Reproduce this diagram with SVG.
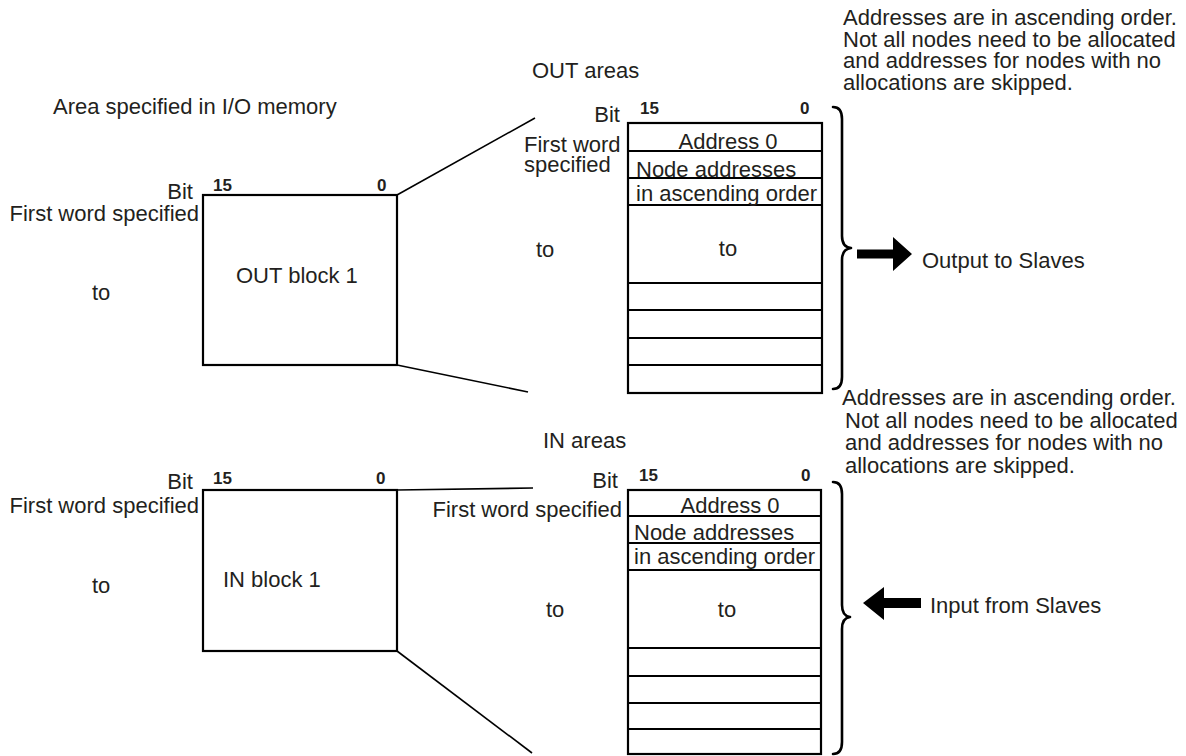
<svg xmlns="http://www.w3.org/2000/svg" width="1186" height="756" viewBox="0 0 1186 756">
<style>
text{font-family:"Liberation Sans",Arial,sans-serif;font-size:22px;fill:#231f20}
.num{font-size:17px;font-weight:bold}
.e{text-anchor:end}
.m{text-anchor:middle}
.box{fill:none;stroke:#000;stroke-width:2.2}
.row{stroke:#000;stroke-width:2}
.con{stroke:#000;stroke-width:1.6;fill:none}
.brace{fill:none;stroke:#000;stroke-width:2.6;stroke-linecap:round;stroke-linejoin:round}
</style>
<rect width="1186" height="756" fill="#fff"/>

<text x="53" y="114">Area specified in I/O memory</text>
<text x="532" y="78">OUT areas</text>
<text x="543" y="448">IN areas</text>

<g id="note-out">
<text x="843" y="25">Addresses are in ascending order.</text>
<text x="843" y="47">Not all nodes need to be allocated</text>
<text x="843" y="68">and addresses for nodes with no</text>
<text x="843" y="90">allocations are skipped.</text>
</g>
<g id="note-in">
<text x="842" y="405">Addresses are in ascending order.</text>
<text x="845" y="428">Not all nodes need to be allocated</text>
<text x="845" y="450">and addresses for nodes with no</text>
<text x="845" y="473">allocations are skipped.</text>
</g>

<g id="out-block">
<rect class="box" x="203" y="195" width="194" height="170"/>
<text class="e" x="193" y="199">Bit</text>
<text class="num" x="213" y="191">15</text>
<text class="num" x="377" y="191">0</text>
<text class="e" x="199" y="221">First word specified</text>
<text x="92" y="300">to</text>
<text x="236" y="283">OUT block 1</text>
</g>

<g id="in-block">
<rect class="box" x="203" y="490" width="194" height="161"/>
<text class="e" x="193" y="489">Bit</text>
<text class="num" x="213" y="484">15</text>
<text class="num" x="376" y="484">0</text>
<text class="e" x="199" y="513">First word specified</text>
<text x="92" y="593">to</text>
<text x="223" y="587">IN block 1</text>
</g>

<g id="out-areas">
<rect class="box" x="628" y="123" width="194" height="270"/>
<line class="row" x1="628" y1="151" x2="822" y2="151"/>
<line class="row" x1="628" y1="178" x2="822" y2="178"/>
<line class="row" x1="628" y1="205" x2="822" y2="205"/>
<line class="row" x1="628" y1="283" x2="822" y2="283"/>
<line class="row" x1="628" y1="310" x2="822" y2="310"/>
<line class="row" x1="628" y1="338" x2="822" y2="338"/>
<line class="row" x1="628" y1="365" x2="822" y2="365"/>
<text class="e" x="620" y="122">Bit</text>
<text class="num" x="640" y="114">15</text>
<text class="num" x="800" y="114">0</text>
<text x="524" y="152">First word</text>
<text x="524" y="172">specified</text>
<text x="536" y="257">to</text>
<text class="m" x="728" y="149">Address 0</text>
<text x="636" y="177">Node addresses</text>
<text x="636" y="201">in ascending order</text>
<text class="m" x="728" y="256">to</text>
</g>

<g id="in-areas">
<rect class="box" x="628" y="490" width="193" height="264"/>
<line class="row" x1="628" y1="516" x2="821" y2="516"/>
<line class="row" x1="628" y1="543" x2="821" y2="543"/>
<line class="row" x1="628" y1="570" x2="821" y2="570"/>
<line class="row" x1="628" y1="648" x2="821" y2="648"/>
<line class="row" x1="628" y1="676" x2="821" y2="676"/>
<line class="row" x1="628" y1="703" x2="821" y2="703"/>
<line class="row" x1="628" y1="729" x2="821" y2="729"/>
<text class="e" x="618" y="488">Bit</text>
<text class="num" x="639" y="481">15</text>
<text class="num" x="801" y="481">0</text>
<text class="e" x="622" y="517">First word specified</text>
<text x="546" y="617">to</text>
<text class="m" x="730" y="513">Address 0</text>
<text x="634" y="540">Node addresses</text>
<text x="634" y="564">in ascending order</text>
<text class="m" x="727" y="617">to</text>
</g>

<g id="connectors">
<line class="con" x1="397" y1="195" x2="535" y2="118"/>
<line class="con" x1="397" y1="365" x2="528" y2="392"/>
<line class="con" x1="397" y1="490" x2="533" y2="488"/>
<line class="con" x1="397" y1="651" x2="532" y2="753"/>
<path class="brace" d="M833,107 Q842,107 842,119 L842,236 Q842,247 851,248 Q842,249 842,260 L842,377 Q842,389 833,389"/>
<path class="brace" d="M833,482 Q842,482 842,494 L842,605 Q842,616 850,617 Q842,618 842,629 L842,742 Q842,754 833,754"/>
<polygon points="857,249.5 893,249.5 893,237 912,254 893,271 893,258.5 857,258.5" fill="#000"/>
<polygon points="921,598 884,598 884,587 863,603 884,620 884,608 921,608" fill="#000"/>
</g>

<text x="922" y="268">Output to Slaves</text>
<text x="930" y="613">Input from Slaves</text>
</svg>
